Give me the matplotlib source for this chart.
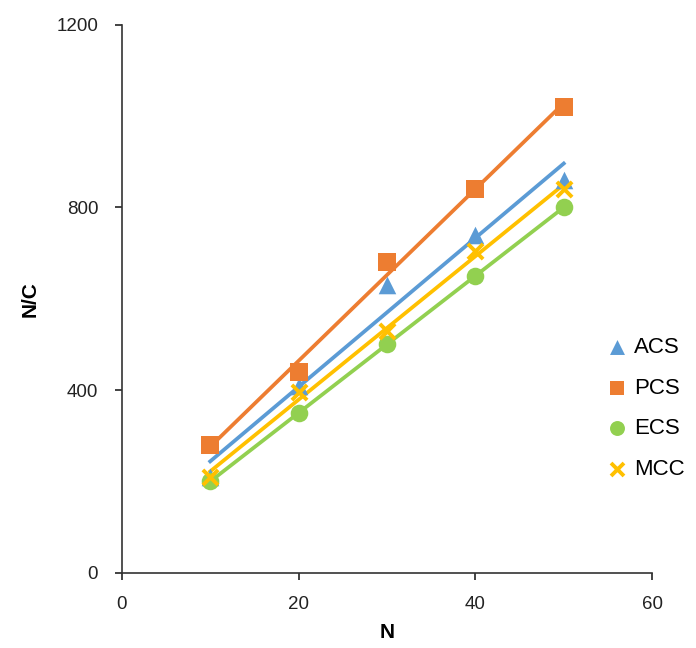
import numpy as np
import matplotlib.pyplot as plt

plt.rcParams['font.family'] = ['Liberation Sans', 'DejaVu Sans']

n = [10, 20, 30, 40, 50]
acs = [210, 410, 630, 740, 860]
pcs = [280, 440, 680, 840, 1020]
ecs = [200, 350, 500, 650, 800]
mcc = [210, 395, 530, 705, 840]

series = [
    ('ACS', acs, '#5B9BD5', '^'),
    ('PCS', pcs, '#ED7D31', 's'),
    ('ECS', ecs, '#92D050', 'o'),
    ('MCC', mcc, '#FFC000', 'x'),
]

fig = plt.figure(figsize=(6.96, 6.48), dpi=100)
ax = fig.add_axes([0.175, 0.116, 0.762, 0.846])

for name, vals, color, marker in series:
    if marker == 'x':
        ax.scatter(n, vals, marker=marker, s=120, color=color, linewidths=2.8, label=name, zorder=3)
    else:
        ax.scatter(n, vals, marker=marker, s=160, color=color, linewidths=0, label=name, zorder=3)
    # linear trendline
    k, b = np.polyfit(n, vals, 1)
    xs = np.array([n[0], n[-1]])
    ax.plot(xs, k * xs + b, color=color, lw=2.7, zorder=2)

ax.set_xlim(0, 60)
ax.set_ylim(0, 1200)
ax.set_xticks([0, 20, 40, 60])
ax.set_yticks([0, 400, 800, 1200])
ax.tick_params(direction='out', length=5, width=1.2, labelsize=13.5, colors='#222222')
ax.tick_params(axis='x', pad=12)
ax.tick_params(axis='y', pad=12)
for s in ['top', 'right']:
    ax.spines[s].set_visible(False)
for s in ['left', 'bottom']:
    ax.spines[s].set_linewidth(1.2)
    ax.spines[s].set_color('#333333')

ax.set_xlabel('N', fontsize=15, fontweight='bold', labelpad=7)
ax.set_ylabel('N/C', fontsize=15, fontweight='bold', labelpad=12)

ax.legend(loc='center left', bbox_to_anchor=(0.875, 0.30), frameon=False,
          fontsize=16, handletextpad=-0.25, labelspacing=0.88, markerscale=0.85,
          borderaxespad=0)

plt.savefig('out.png')
